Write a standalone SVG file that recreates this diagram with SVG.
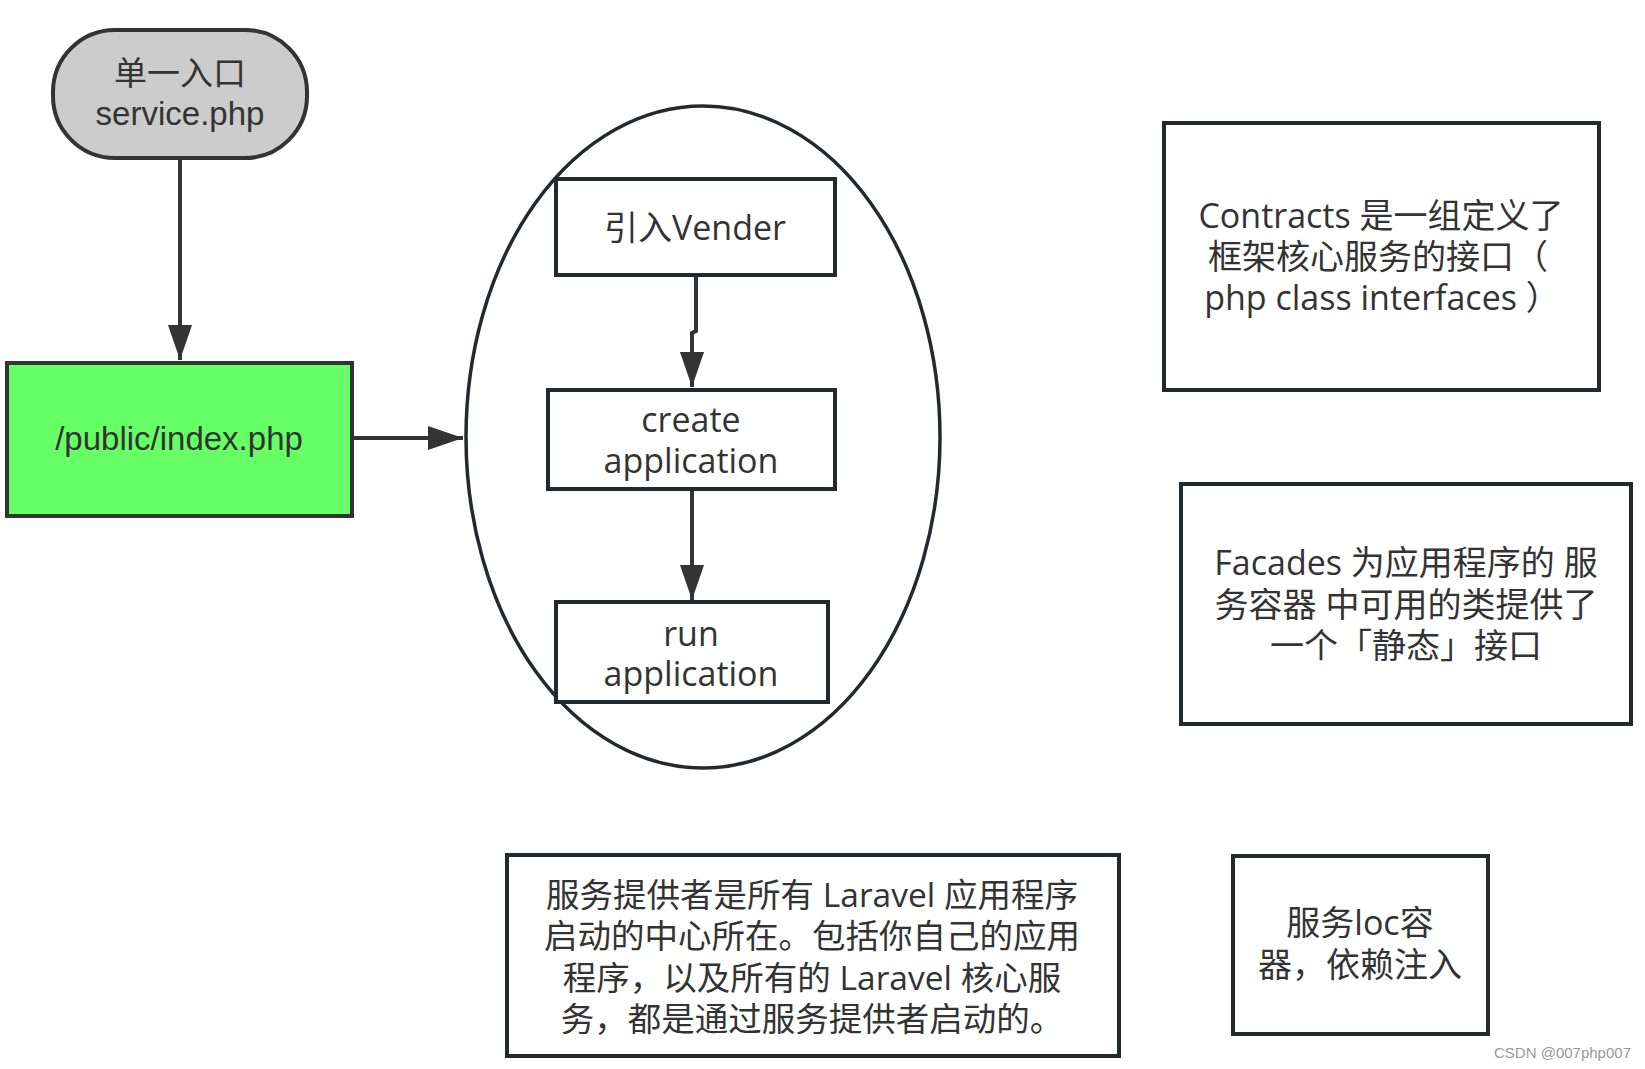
<svg xmlns="http://www.w3.org/2000/svg" width="1645" height="1069" viewBox="0 0 1645 1069">
<style>
.box{fill:#ffffff;stroke:#222a30;stroke-width:4}
.t{font-family:"Open Sans","Noto Sans CJK SC",sans-serif;font-size:34px;fill:#333333;text-anchor:middle}
.tb{font-family:"Open Sans","Noto Sans CJK SC",sans-serif;font-size:33.5px;fill:#333333;text-anchor:middle}
.ta{font-family:"Liberation Sans","Noto Sans CJK SC",sans-serif;font-size:33px;fill:#333333;text-anchor:middle}
.c{fill:none;stroke:#333333;stroke-width:4}
</style>
<defs>
<marker id="ah" markerUnits="userSpaceOnUse" markerWidth="36" markerHeight="24" refX="35" refY="12" orient="auto">
<path d="M0,0 L35,12 L0,24 Z" fill="#333333"/>
</marker>
</defs>
<rect width="1645" height="1069" fill="#ffffff"/>
<g id="connectors">
<path class="c" d="M180,159 L180,360" marker-end="url(#ah)"/>
<path class="c" d="M352,438 L463,438" marker-end="url(#ah)"/>
<path class="c" d="M696,276 L696,331 L692,333 L692,387" marker-end="url(#ah)"/>
<path class="c" d="M692,489 L692,600" marker-end="url(#ah)"/>
</g>
<g id="entry">
<rect x="53" y="30" width="254" height="128" rx="62" ry="62" fill="#cccccc" stroke="#333333" stroke-width="4"/>
<text class="ta" x="180" y="85">单一入口</text>
<text class="ta" x="180" y="125">service.php</text>
</g>
<g id="index">
<rect x="7" y="363" width="345" height="153" fill="#66ff66" stroke="#333333" stroke-width="4"/>
<text class="ta" x="179" y="450">/public/index.php</text>
</g>
<g id="bootstrap">
<ellipse cx="703" cy="437" rx="237" ry="331" fill="none" stroke="#222a30" stroke-width="3.5"/>
</g>
<g id="vender">
<rect class="box" x="556" y="179" width="279" height="96"/>
<text class="t" x="695" y="240">引入Vender</text>
</g>
<g id="create">
<rect class="box" x="548" y="390" width="287" height="99"/>
<text class="t" x="691" y="432">create</text>
<text class="t" x="691" y="473">application</text>
</g>
<g id="run">
<rect class="box" x="556" y="602" width="272" height="100"/>
<text class="t" x="691" y="646">run</text>
<text class="t" x="691" y="686">application</text>
</g>
<g id="contracts">
<rect class="box" x="1164" y="123" width="435" height="267"/>
<text class="t" x="1381" y="228">Contracts 是一组定义了</text>
<text class="t" x="1378" y="269">框架核心服务的接口（</text>
<text class="t" x="1382" y="310">php class interfaces ）</text>
</g>
<g id="facades">
<rect class="box" x="1181" y="484" width="450" height="240"/>
<text class="t" x="1406" y="575">Facades 为应用程序的 服</text>
<text class="t" x="1406" y="617">务容器 中可用的类提供了</text>
<text class="t" x="1406" y="658">一个「静态」接口</text>
</g>
<g id="providers">
<rect class="box" x="507" y="855" width="612" height="201"/>
<text class="tb" x="812" y="907">服务提供者是所有 Laravel 应用程序</text>
<text class="tb" x="812" y="948">启动的中心所在。包括你自己的应用</text>
<text class="tb" x="812" y="990">程序，以及所有的 Laravel 核心服</text>
<text class="tb" x="812" y="1031">务，都是通过服务提供者启动的。</text>
</g>
<g id="ioc">
<rect class="box" x="1233" y="856" width="255" height="178"/>
<text class="t" x="1360" y="935">服务loc容</text>
<text class="t" x="1360" y="977">器，依赖注入</text>
</g>
<text x="1631" y="1058" font-family="Liberation Sans,sans-serif" font-size="15" fill="#999999" text-anchor="end">CSDN @007php007</text>
</svg>
